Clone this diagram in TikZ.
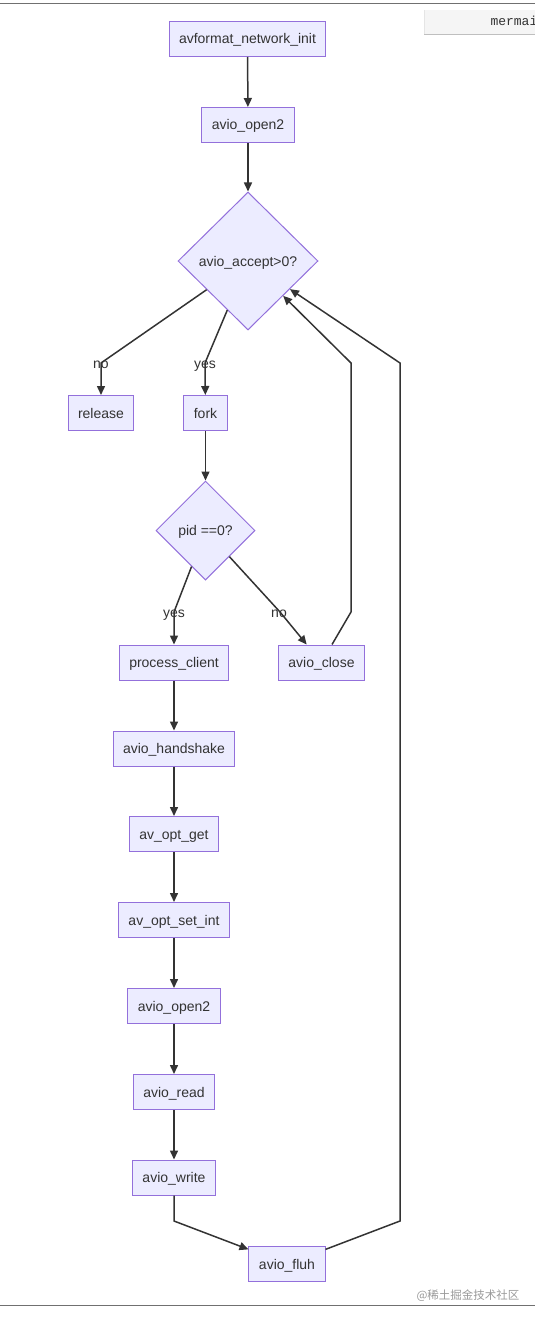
\documentclass[tikz,border=0pt]{standalone}
\usepackage{fontspec}
\setmainfont{Liberation Sans}
\setmonofont{Liberation Mono}
\newfontfamily\cjk{Noto Sans CJK SC}
\usetikzlibrary{shapes.geometric,arrows.meta}
\definecolor{nodefill}{HTML}{ECECFF}
\definecolor{nodeline}{HTML}{9370DB}
\definecolor{edgegray}{HTML}{333333}
\definecolor{framegray}{HTML}{707070}

\begin{document}
\begin{tikzpicture}[
    x=1pt, y=-1pt,
    fnbox/.style={rectangle, draw=nodeline, fill=nodefill, line width=1pt, minimum height=35pt, inner xsep=10pt, text height=10pt, text depth=0pt, font=\fontsize{14}{16}\selectfont, text=edgegray},
    decision/.style={diamond, aspect=1, draw=nodeline, fill=nodefill, line width=1pt, inner sep=0pt, text height=10pt, text depth=0pt, font=\fontsize{14}{16}\selectfont, text=edgegray},
    flow/.style={draw=edgegray, line width=1.5pt, -{Triangle[length=9pt,width=8pt]}},
    edgelabel/.style={text height=10pt, text depth=0pt, font=\fontsize{14}{16}\selectfont, text=edgegray},
    frameline/.style={draw=framegray, line width=1.3pt}
]
\useasboundingbox (0,0) rectangle (535,1319);

% Page rules
\draw[frameline] (0,3.5) -- (535,3.5);
\draw[frameline] (0,1305.5) -- (535,1305.5);

% Mermaid tag (top right)
\fill[black!4] (424,10) rectangle (545,34);
\draw[black!25, line width=0.8pt] (424,34) -- (545,34);
\draw[black!10, line width=0.6pt] (424,10) -- (424,34);
\node[anchor=west, font=\ttfamily\fontsize{13}{15}\selectfont, text=edgegray] (mermaidtag) at (487,21) {mermaid};

% Server setup
\node[fnbox] (netinit) at (247.5,39) {avformat\_network\_init};
\node[fnbox] (open) at (248,125) {avio\_open2};
\node[decision, minimum width=140pt, minimum height=138pt] (accept) at (248,261) {avio\_accept>0?};
\node[fnbox] (release) at (101,413) {release};
\node[fnbox] (fork) at (205.5,413) {fork};
\node[decision, minimum width=99pt, minimum height=99pt] (pid) at (205.5,530.5) {pid ==0?};

% Child process
\node[fnbox] (client) at (174,662.5) {process\_client};
\node[fnbox] (close) at (321.5,662.5) {avio\_close};
\node[fnbox] (handshake) at (174,748.5) {avio\_handshake};
\node[fnbox] (optget) at (174,834) {av\_opt\_get};
\node[fnbox] (optset) at (174,920) {av\_opt\_set\_int};
\node[fnbox] (openin) at (174,1006) {avio\_open2};
\node[fnbox] (read) at (174,1092) {avio\_read};
\node[fnbox] (write) at (174,1177.5) {avio\_write};
\node[fnbox] (flush) at (287,1264) {avio\_fluh};

% Bend points
\coordinate (noBend) at (101,363);
\coordinate (yesBend) at (205,363);
\coordinate (childBend) at (174,612);
\coordinate (parentBend) at (280,612);
\coordinate (closeUp) at (351,612);
\coordinate (closeTop) at (351,363);
\coordinate (writeDown) at (174,1221);
\coordinate (flushUp) at (400,1221);
\coordinate (flushTop) at (400,363);

% Edges
\draw[flow] (netinit) -- (open);
\draw[flow] (open) -- (accept);
\draw[flow] (accept) -- (noBend) -- (release);
\draw[flow] (accept) -- (yesBend) -- (fork);
\draw[flow] (fork) -- (pid);
\draw[flow] (pid) -- (childBend) -- (client);
\draw[flow] (pid) -- (parentBend) -- (close);
\draw[flow] (close) -- (closeUp) -- (closeTop) -- (accept);
\draw[flow] (client) -- (handshake);
\draw[flow] (handshake) -- (optget);
\draw[flow] (optget) -- (optset);
\draw[flow] (optset) -- (openin);
\draw[flow] (openin) -- (read);
\draw[flow] (read) -- (write);
\draw[flow] (write) -- (writeDown) -- (flush);
\draw[flow] (flush) -- (flushUp) -- (flushTop) -- (accept);

% Edge labels
\node[edgelabel] (noLabel) at (noBend) {no};
\node[edgelabel] (yesLabel) at (yesBend) {yes};
\node[edgelabel] (childLabel) at (childBend) {yes};
\node[edgelabel] (parentLabel) at (279,612) {no};

% Watermark
\node[text=black!40, font=\cjk\fontsize{11.5}{13}\selectfont] (watermark) at (468,1296) {@稀土掘金技术社区};
\end{tikzpicture}
\end{document}
